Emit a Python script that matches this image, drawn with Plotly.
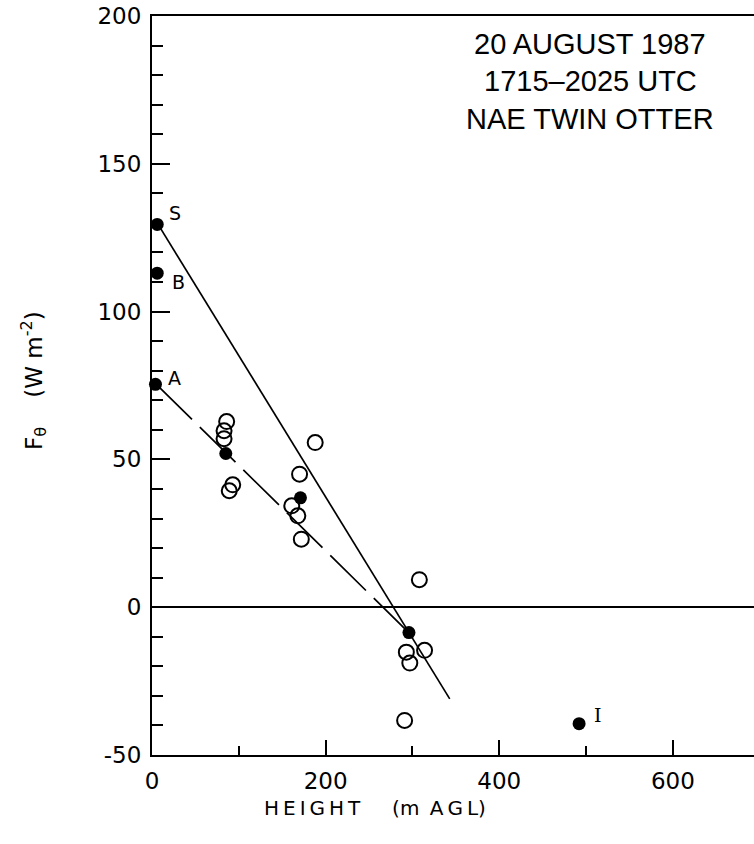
import plotly.graph_objects as go

# ---- data ----
filled_height = [6, 6, 4, 85, 171, 296, 492]
filled_flux = [129.5, 113, 75.4, 52, 37, -8.6, -39.4]

open_height = [86, 83, 83, 93, 89, 188, 170, 161, 168, 172, 308, 293, 297, 314, 291]
open_flux = [62.8, 59.7, 57, 41.4, 39.4, 55.7, 45, 34.3, 30.9, 23, 9.3, -15.2, -18.9, -14.6, -38.3]

solid_fit_height = [7, 343]
solid_fit_flux = [129.5, -31]

dashed_fit_height = [5, 292]
dashed_fit_flux = [75.4, -7.5]

point_labels = ["S", "B", "A", "I"]
label_height = [6, 6, 4, 492]
label_flux = [129.5, 113, 75.4, -39.4]

x_tick_vals = [0, 200, 400, 600]
x_tick_text = ["0", "200", "400", "600"]
y_tick_vals = [-50, 0, 50, 100, 150, 200]
y_tick_text = ["-50", "0", "50", "100", "150", "200"]

title_lines = ["20 AUGUST 1987", "1715\u20132025 UTC", "NAE TWIN OTTER"]

fig = go.Figure()

fig.add_trace(go.Scatter(
    x=solid_fit_height, y=solid_fit_flux, mode="lines",
    line=dict(color="black", width=1.7), showlegend=False, cliponaxis=False))
fig.add_trace(go.Scatter(
    x=dashed_fit_height, y=dashed_fit_flux, mode="lines",
    line=dict(color="black", width=1.7, dash="50px,11px"), showlegend=False, cliponaxis=False))
fig.add_trace(go.Scatter(
    x=open_height, y=open_flux, mode="markers",
    marker=dict(symbol="circle-open", size=15, color="black", line=dict(width=2, color="black")),
    showlegend=False, cliponaxis=False))
fig.add_trace(go.Scatter(
    x=filled_height, y=filled_flux, mode="markers",
    marker=dict(symbol="circle", size=13, color="black"),
    showlegend=False, cliponaxis=False))

# point labels
shifts = [(18, 11), (21, -9), (19, 6), (19, 9)]
for lab, hx, fy, (dx, dy) in zip(point_labels, label_height, label_flux, shifts):
    fig.add_annotation(
        x=hx, y=fy, xref="x", yref="y", text=lab, showarrow=False,
        xshift=dx, yshift=dy,
        font=dict(family="DejaVu Sans" if lab != "I" else "DejaVu Serif", size=19, color="black"))

# title block
for i, t in enumerate(title_lines):
    fig.add_annotation(
        x=590, y=44 + i * 37.5, xref="paper", yref="paper", text=t, showarrow=False,
        font=dict(family="Liberation Sans", size=29, color="black"),
        xanchor="center", yanchor="middle")

# axis titles as annotations
fig.add_annotation(
    text="F<sub>\u03b8</sub>    (W m<sup>-2</sup>)", x=33, y=381, xref="paper", yref="paper",
    showarrow=False, textangle=-90, font=dict(family="DejaVu Sans", size=23, color="black"),
    xanchor="center", yanchor="middle")
sp = "\u2009"
fig.add_annotation(
    text=sp.join("HEIGHT") + "     (m" + sp + " " + sp.join("AGL") + ")",
    x=375, y=808, xref="paper", yref="paper",
    showarrow=False, font=dict(family="DejaVu Sans", size=20, color="black"),
    xanchor="center", yanchor="middle")

W, H = 754, 844
L, R, T, B = 152, 0, 16, 89

# convert pixel-based annotation positions to paper coords
for ann in fig.layout.annotations:
    if ann.xref == "paper":
        ann.x = (ann.x - L) / (W - L - R)
        ann.y = 1 - (ann.y - T) / (H - T - B)

fig.update_layout(
    width=W, height=H,
    margin=dict(l=L, r=R, t=T, b=B, pad=0),
    plot_bgcolor="white", paper_bgcolor="white",
    showlegend=False,
    xaxis=dict(
        range=[0, 693.5], tickvals=x_tick_vals, ticktext=x_tick_text,
        ticks="inside", ticklen=15, tickwidth=1.5, tickcolor="black",
        minor=dict(tickvals=[100, 300, 500], ticks="inside", ticklen=9, tickwidth=1.5, tickcolor="black"),
        showline=True, linecolor="black", linewidth=2, mirror=True,
        showgrid=False, zeroline=False,
        tickfont=dict(family="DejaVu Sans", size=23, color="black"),
        ticklabelstandoff=4),
    yaxis=dict(
        range=[-50, 200], tickvals=y_tick_vals, ticktext=y_tick_text,
        ticks="inside", ticklen=18, tickwidth=1.5, tickcolor="black",
        minor=dict(dtick=10, ticks="inside", ticklen=11, tickwidth=1.5, tickcolor="black"),
        showline=True, linecolor="black", linewidth=2,
        showgrid=False, zeroline=True, zerolinecolor="black", zerolinewidth=1.6,
        tickfont=dict(family="DejaVu Sans", size=23, color="black"),
        ticklabelstandoff=4),
)

fig.write_html(
    "out.html",
    config={"displayModeBar": False},
    post_script="document.body.style.margin='0px';document.body.style.overflow='hidden';")
